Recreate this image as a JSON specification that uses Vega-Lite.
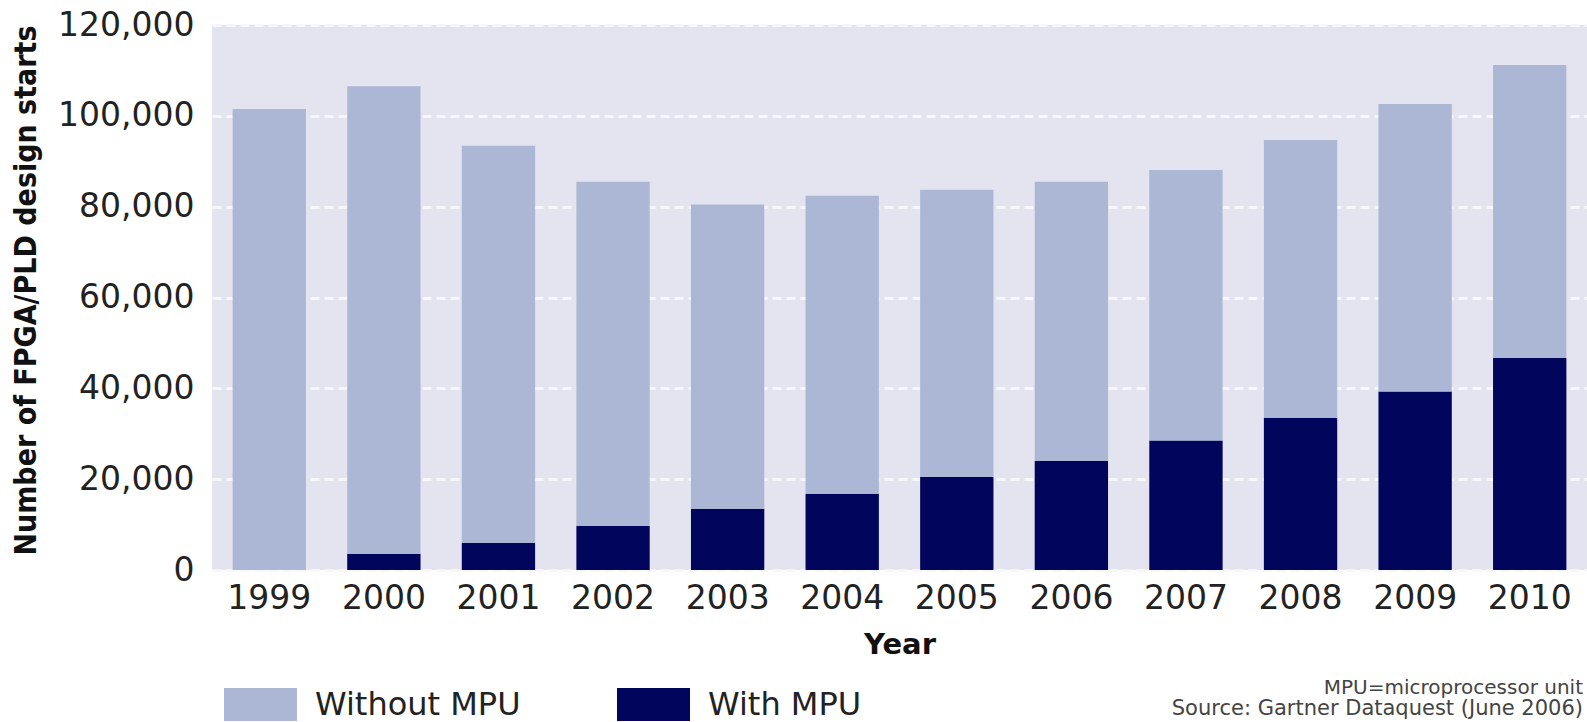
{
  "$schema": "https://vega.github.io/schema/vega-lite/v6.json",
  "width": 1375,
  "height": 545,
  "autosize": {"type": "none"},
  "padding": {"left": 212, "top": 25, "right": 0, "bottom": 152},
  "background": "white",
  "title": {
    "text": "MPU=microprocessor unit",
    "subtitle": "Source: Gartner Dataquest (June 2006)",
    "orient": "bottom",
    "anchor": "end",
    "font": "DejaVu Sans",
    "subtitleFont": "DejaVu Sans",
    "fontSize": 20,
    "subtitleFontSize": 21,
    "fontWeight": "normal",
    "color": "#444444",
    "subtitleColor": "#444444",
    "offset": -43,
    "subtitlePadding": 0,
    "dx": -4
  },
  "config": {
    "view": {"fill": "#E3E4EF", "stroke": null},
    "font": "DejaVu Sans"
  },
  "data": {
    "values": [
      {"year": "1999", "type": "With MPU", "value": 0},
      {"year": "2000", "type": "With MPU", "value": 3500},
      {"year": "2001", "type": "With MPU", "value": 6000},
      {"year": "2002", "type": "With MPU", "value": 9700},
      {"year": "2003", "type": "With MPU", "value": 13500},
      {"year": "2004", "type": "With MPU", "value": 16800},
      {"year": "2005", "type": "With MPU", "value": 20500},
      {"year": "2006", "type": "With MPU", "value": 24000},
      {"year": "2007", "type": "With MPU", "value": 28500},
      {"year": "2008", "type": "With MPU", "value": 33500},
      {"year": "2009", "type": "With MPU", "value": 39300},
      {"year": "2010", "type": "With MPU", "value": 46700},
      {"year": "1999", "type": "Without MPU", "value": 101500},
      {"year": "2000", "type": "Without MPU", "value": 103000},
      {"year": "2001", "type": "Without MPU", "value": 87400},
      {"year": "2002", "type": "Without MPU", "value": 75800},
      {"year": "2003", "type": "Without MPU", "value": 67000},
      {"year": "2004", "type": "Without MPU", "value": 65600},
      {"year": "2005", "type": "Without MPU", "value": 63200},
      {"year": "2006", "type": "Without MPU", "value": 61500},
      {"year": "2007", "type": "Without MPU", "value": 59600},
      {"year": "2008", "type": "Without MPU", "value": 61200},
      {"year": "2009", "type": "Without MPU", "value": 63300},
      {"year": "2010", "type": "Without MPU", "value": 64500}
    ]
  },
  "mark": {"type": "bar"},
  "encoding": {
    "x": {
      "field": "year",
      "type": "ordinal",
      "scale": {"paddingInner": 0.36, "paddingOuter": 0.18},
      "axis": {
        "title": "Year",
        "titleFontSize": 29,
        "titleFontWeight": "bold",
        "titleColor": "#111111",
        "titlePadding": 15,
        "labelAngle": 0,
        "labelFontSize": 33,
        "labelColor": "#222222",
        "labelPadding": 12,
        "domain": false,
        "ticks": false
      }
    },
    "y": {
      "field": "value",
      "type": "quantitative",
      "stack": "zero",
      "scale": {"domain": [0, 120000], "nice": false},
      "axis": {
        "title": "Number of FPGA/PLD design starts",
        "titleFont": "DejaVu Sans Condensed",
        "titleFontSize": 30,
        "titleFontWeight": "bold",
        "titleColor": "#111111",
        "titlePadding": 16,
        "titleY": 265,
        "values": [0, 20000, 40000, 60000, 80000, 100000, 120000],
        "format": ",d",
        "labelFontSize": 33,
        "labelColor": "#222222",
        "labelPadding": 18,
        "domain": false,
        "ticks": false,
        "grid": true,
        "gridColor": "#F7F7FB",
        "gridWidth": 3,
        "gridDash": [9, 5]
      }
    },
    "color": {
      "field": "type",
      "type": "nominal",
      "scale": {"domain": ["Without MPU", "With MPU"], "range": ["#ACB7D6", "#02055C"]},
      "legend": {
        "title": null,
        "orient": "none",
        "legendX": 12,
        "legendY": 643,
        "direction": "horizontal",
        "columns": 2,
        "columnPadding": 96,
        "symbolType": "M-1,-0.45H1V0.45H-1Z",
        "symbolSize": 5329,
        "symbolStrokeWidth": 0,
        "labelFontSize": 32,
        "labelColor": "#222222",
        "labelOffset": 18,
        "labelLimit": 400
      }
    },
    "order": {"field": "type", "sort": "ascending"}
  }
}
